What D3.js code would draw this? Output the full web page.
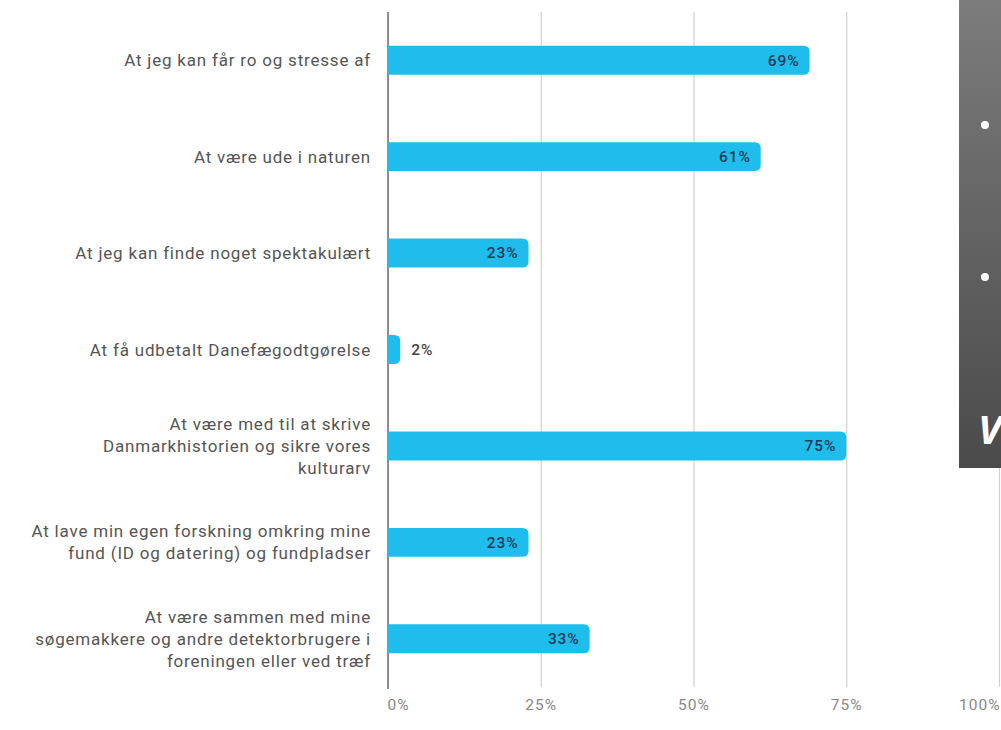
<!DOCTYPE html>
<html lang="da">
	<head>
		<meta charset="utf-8">
		<title>Motivation</title>
		<script type="text/javascript" src="https://d3js.org/d3.v7.min.js"></script>
		<style type="text/css">
		body {
			margin: 0;
			background: #fff;
			overflow: hidden;
		}
		.label_styling {
			font-family: Roboto;
			font-size: 17px;
			letter-spacing: 0.8px;
			fill: #555;
		}
		.value_styling {
			font-family: Roboto;
			font-weight: 500;
			font-size: 15.5px;
			letter-spacing: 0.9px;
		}
		.xAxis .domain {
			display: none;
		}
		.xAxis line {
			stroke: #d0d0d0;
			stroke-width: 1.2;
		}
		.xAxis text {
			font-family: Roboto;
			font-size: 15.5px;
			letter-spacing: 1px;
			fill: #888;
		}
		</style>
	</head>
	<body>
		<div id="bar-chart"></div>

		<script type="text/javascript">

		// data
		const categories = [
			"At jeg kan får ro og stresse af",
			"At være ude i naturen",
			"At jeg kan finde noget spektakulært",
			"At få udbetalt Danefægodtgørelse",
			"At være med til at skrive\nDanmarkhistorien og sikre vores\nkulturarv",
			"At lave min egen forskning omkring mine\nfund (ID og datering) og fundpladser",
			"At være sammen med mine\nsøgemakkere og andre detektorbrugere i\nforeningen eller ved træf"
		];
		const values = [69, 61, 23, 2, 75, 23, 33];
		const tickValues = [0, 25, 50, 75, 100];

		const width = 1001;
		const height = 730;
		const plotLeft = 388;
		const plotRight = 999;
		const plotTop = 12;
		const plotBottom = 687;

		const svg = d3.select("#bar-chart")
			.append("svg")
			.attr("width", width)
			.attr("height", height)
			.attr("viewBox", [0, 0, width, height]);

		const x = d3.scaleLinear()
			.domain([0, 100])
			.range([plotLeft, plotRight]);

		const y = d3.scaleBand()
			.domain(categories)
			.range([plotTop, plotBottom])
			.paddingInner(0.7)
			.paddingOuter(0.35);

		// gridlines + tick labels
		const xAxis = d3.axisBottom(x)
			.tickValues(tickValues)
			.tickFormat(d => d + "%")
			.tickSize(-(plotBottom - plotTop))
			.tickPadding(12);

		const gx = svg.append("g")
			.attr("class", "xAxis")
			.attr("transform", "translate(0," + plotBottom + ")")
			.call(xAxis);

		gx.selectAll(".tick text")
			.attr("text-anchor", d => d === 0 ? "start" : (d === 100 ? "end" : "middle"))
			.attr("dx", d => d === 0 ? -1 : (d === 100 ? 1 : 0));

		// zero line
		svg.append("line")
			.attr("x1", x(0))
			.attr("x2", x(0))
			.attr("y1", plotTop)
			.attr("y2", plotBottom + 2)
			.attr("stroke", "#777")
			.attr("stroke-width", 1.6);

		// bars with rounded right end
		const data = categories.map((c, i) => ({name: c, value: values[i]}));

		function barPath(d) {
			const x0 = x(0), x1 = x(d.value);
			const y0 = y(d.name), h = y.bandwidth();
			const r = Math.min(6, x1 - x0);
			return "M" + x0 + "," + y0 +
				"H" + (x1 - r) +
				"Q" + x1 + "," + y0 + " " + x1 + "," + (y0 + r) +
				"V" + (y0 + h - r) +
				"Q" + x1 + "," + (y0 + h) + " " + (x1 - r) + "," + (y0 + h) +
				"H" + x0 + "Z";
		}

		svg.append("g")
			.attr("class", "bars")
			.selectAll("path")
			.data(data)
			.enter()
			.append("path")
			.attr("d", barPath)
			.attr("fill", "#1fbdec");

		// value labels
		svg.append("g")
			.selectAll("text")
			.data(data)
			.enter()
			.append("text")
			.attr("class", "value_styling")
			.attr("x", d => (x(d.value) - x(0) > 50) ? x(d.value) - 10 : x(d.value) + 11)
			.attr("y", d => y(d.name) + y.bandwidth() / 2)
			.attr("dy", "0.35em")
			.attr("text-anchor", d => (x(d.value) - x(0) > 50) ? "end" : "start")
			.attr("fill", d => (x(d.value) - x(0) > 50) ? "#1b3a56" : "#444")
			.text(d => d.value + "%");

		// category labels (multi-line)
		const lineHeight = 22;
		const labels = svg.append("g")
			.selectAll("text")
			.data(categories)
			.enter()
			.append("text")
			.attr("class", "label_styling")
			.attr("text-anchor", "end")
			.attr("x", 371)
			.attr("y", d => y(d) + y.bandwidth() / 2);

		labels.each(function(d) {
			const lines = d.split("\n");
			const t = d3.select(this);
			lines.forEach((ln, i) => {
				t.append("tspan")
					.attr("x", 371)
					.attr("dy", i === 0 ? ((-(lines.length - 1) / 2) * lineHeight + 6) + "px" : lineHeight + "px")
					.text(ln);
			});
		});

		// dark slide panel on the right
		const grad = svg.append("defs")
			.append("linearGradient")
			.attr("id", "panelGrad")
			.attr("x1", 0).attr("y1", 0)
			.attr("x2", 0).attr("y2", 1);
		grad.append("stop").attr("offset", "0%").attr("stop-color", "#7c7c7c");
		grad.append("stop").attr("offset", "100%").attr("stop-color", "#4a4a4a");

		const panel = svg.append("g");
		panel.append("rect")
			.attr("x", 959)
			.attr("y", 0)
			.attr("width", 42)
			.attr("height", 468)
			.attr("fill", "url(#panelGrad)");
		panel.selectAll("circle")
			.data([125, 277])
			.enter()
			.append("circle")
			.attr("cx", 985)
			.attr("cy", d => d)
			.attr("r", 4)
			.attr("fill", "#fff");
		panel.append("text")
			.attr("x", 978)
			.attr("y", 444)
			.attr("fill", "#fff")
			.style("font-family", "Open Sans")
			.style("font-weight", 700)
			.style("font-style", "italic")
			.style("font-size", "40px")
			.text("V");

		</script>
	</body>
</html>
